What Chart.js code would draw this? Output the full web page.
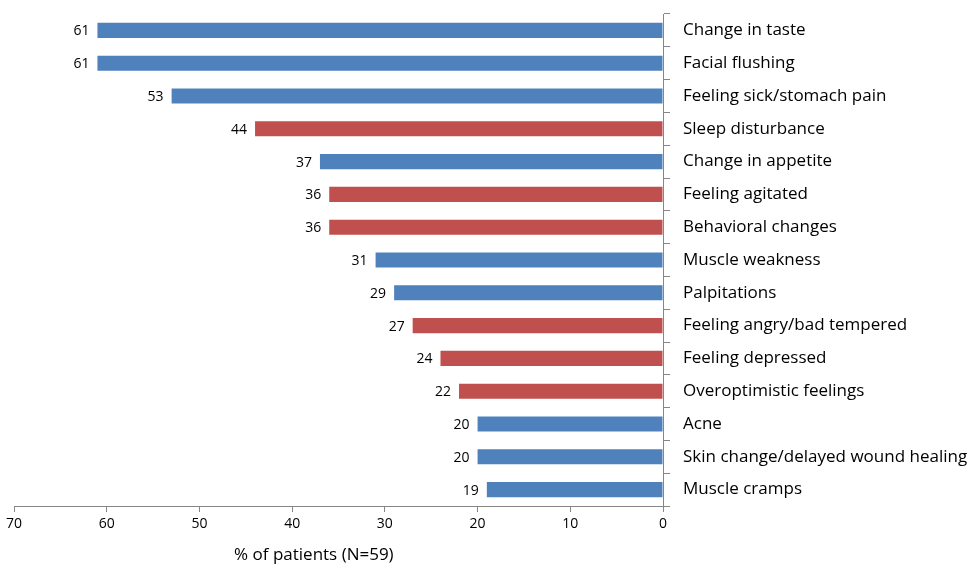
<!DOCTYPE html>
<html><head><meta charset="utf-8">
<script src="https://cdn.jsdelivr.net/npm/chart.js@4"></script>
<style>html,body{margin:0;padding:0;background:#fff;}#wrap{width:972px;height:565px;}</style>
</head><body><div id="wrap"><canvas id="c"></canvas></div>
<script>
const categories = ["Change in taste","Facial flushing","Feeling sick/stomach pain","Sleep disturbance","Change in appetite","Feeling agitated","Behavioral changes","Muscle weakness","Palpitations","Feeling angry/bad tempered","Feeling depressed","Overoptimistic feelings","Acne","Skin change/delayed wound healing","Muscle cramps"];
const values = [61,61,53,44,37,36,36,31,29,27,24,22,20,20,19];
const groups = ["physical","physical","physical","psych","physical","psych","psych","physical","physical","psych","psych","psych","physical","physical","physical"];
const xTicks = [0,10,20,30,40,50,60,70];
const axisTitle = "% of patients (N=59)";
const palette = {physical:"#4F81BD", psych:"#C0504D"};
const FONT = "'Open Sans', sans-serif";

const labelPlugin = {
  id:'vals',
  afterDatasetsDraw(chart){
    const ctx = chart.ctx;
    const meta = chart.getDatasetMeta(0);
    ctx.save();
    ctx.font = "14px " + FONT;
    ctx.fillStyle = "#000";
    ctx.textAlign = "right";
    ctx.textBaseline = "middle";
    meta.data.forEach((bar,i)=>{
      ctx.fillText(String(values[i]), bar.x - 8, bar.y + 1);
    });
    const a = chart.chartArea;
    ctx.font = "17px " + FONT;
    ctx.textAlign = "center";
    ctx.textBaseline = "middle";
    ctx.fillText(axisTitle, a.left + (a.right - a.left) * 0.462, 555);
    ctx.restore();
  }
};

new Chart(document.getElementById('c'), {
  type:'bar',
  data:{labels:categories, datasets:[{data:values, backgroundColor:groups.map(g=>palette[g]), barPercentage:0.46, categoryPercentage:1}]},
  options:{
    indexAxis:'y', responsive:true, maintainAspectRatio:false, animation:false,
    layout:{padding:{left:14, top:14, right:0, bottom:0}},
    plugins:{legend:{display:false}, tooltip:{enabled:false}},
    scales:{
      x:{reverse:true, min:0, max:70, afterBuildTicks(s){s.ticks = xTicks.map(v=>({value:v}));},
        grid:{drawOnChartArea:false, tickLength:6, color:'#868686'},
        border:{color:'#868686', width:1},
        ticks:{font:{family:FONT,size:14}, color:'#000', padding:4, maxRotation:0},
        afterFit(s){s.height = 59;}},
      y:{position:'right',
        grid:{drawOnChartArea:false, offset:true, tickLength:7, color:'#868686'},
        border:{color:'#868686', width:1},
        ticks:{font:{family:FONT,size:17}, color:'#000', padding:13},
        afterFit(s){s.width = 309; s.paddingTop = 0; s.paddingBottom = 0;}}
    }
  },
  plugins:[labelPlugin]
});
</script></body></html>
